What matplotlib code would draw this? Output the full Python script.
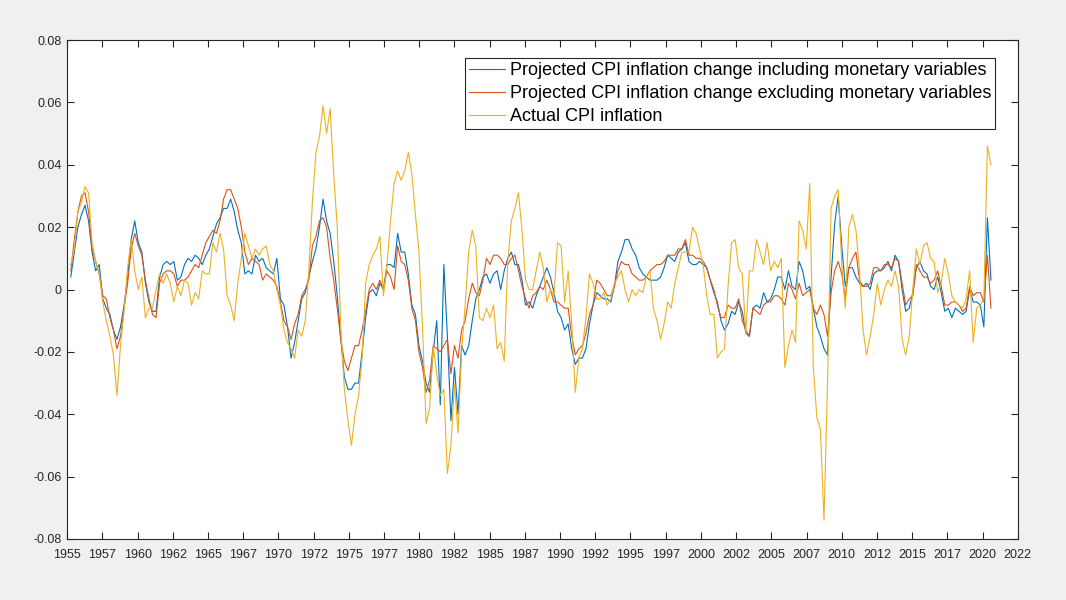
import numpy as np
import matplotlib
matplotlib.use("Agg")
import matplotlib.pyplot as plt

plt.rcParams["font.family"] = ["Liberation Sans", "DejaVu Sans"]
plt.rcParams["axes.unicode_minus"] = False

# evenly spaced observations (roughly quarterly), values in percentage points
first_obs = 1955.25
last_obs = 2020.6

incl_monetary_pct = [
    0.4, 1.2, 2.0,                # 1955
    2.4, 2.7, 2.2, 1.2,           # 1956
    0.6, 0.8, -0.3, -0.6,         # 1957
    -0.8, -1.3, -1.6, -1.2,       # 1958
    -0.5, 0.4, 1.6, 2.2,          # 1959
    1.5, 1.2, 0.2, -0.4,          # 1960
    -0.7, -0.7, 0.4, 0.8,         # 1961
    0.9, 0.8, 0.9, 0.3,           # 1962
    0.4, 0.8, 1.0, 0.9,           # 1963
    1.1, 1.0, 0.8, 1.1,           # 1964
    1.3, 1.7, 2.1, 2.3,           # 1965
    2.6, 2.6, 2.9, 2.5,           # 1966
    1.9, 1.5, 0.5, 0.6,           # 1967
    0.5, 1.1, 0.9, 1.0,           # 1968
    0.7, 0.6, 0.5, 1.0,           # 1969
    -0.3, -0.5, -1.2, -2.2,       # 1970
    -1.7, -1.0, -0.3, -0.1,       # 1971
    0.4, 0.9, 1.3, 2.0,           # 1972
    2.9, 2.2, 1.8, 0.9,           # 1973
    -0.2, -1.6, -2.8, -3.2,       # 1974
    -3.2, -3.0, -3.0, -2.0,       # 1975
    -0.9, -0.1, 0.0, -0.2,        # 1976
    0.2, 0.0, 0.8, 0.8,           # 1977
    0.7, 1.8, 1.2, 1.2,           # 1978
    0.5, -0.5, -0.8, -1.8,        # 1979
    -2.3, -3.0, -3.3, -2.0,       # 1980
    -1.0, -3.7, 0.8, -1.5,        # 1981
    -4.2, -2.5, -4.0, -1.8,       # 1982
    -2.1, -1.8, -1.0, -0.3,       # 1983
    0.0, 0.4, 0.5, 0.2,           # 1984
    0.5, 0.6, 0.0, 0.6,           # 1985
    1.0, 1.2, 0.8, 0.8,           # 1986
    0.3, -0.5, -0.4, -0.6,        # 1987
    -0.2, 0.1, 0.4, 0.7,          # 1988
    0.4, -0.1, -0.7, -0.9,        # 1989
    -1.3, -1.1, -1.9, -2.4,       # 1990
    -2.2, -2.2, -1.9, -1.1,       # 1991
    -0.5, -0.1, -0.2, -0.3,       # 1992
    -0.3, -0.4, 0.1, 0.9,         # 1993
    1.2, 1.6, 1.6, 1.3,           # 1994
    1.1, 0.7, 0.5, 0.4,           # 1995
    0.3, 0.3, 0.3, 0.4,           # 1996
    0.7, 1.1, 1.0, 0.9,           # 1997
    1.2, 1.3, 1.5, 0.9,           # 1998
    0.8, 0.8, 0.9, 0.8,           # 1999
    0.7, 0.3, -0.1, -0.4,         # 2000
    -1.0, -1.3, -1.1, -0.7,       # 2001
    -0.8, -0.4, -0.7, -1.4,       # 2002
    -1.5, -0.6, -0.5, -0.6,       # 2003
    -0.1, -0.4, -0.3, 0.0,        # 2004
    0.4, 0.4, 0.0, 0.6,           # 2005
    0.1, 0.0, 0.9, 0.6,           # 2006
    0.0, 0.1, -0.6, -1.2,         # 2007
    -1.5, -1.9, -2.1, 0.4,        # 2008
    2.1, 3.0, 1.4, 0.1,           # 2009
    0.7, 0.7, 0.4, 0.2,           # 2010
    0.1, 0.2, 0.0, 0.5,           # 2011
    0.6, 0.6, 0.7, 0.9,           # 2012
    0.6, 1.1, 0.9, 0.0,           # 2013
    -0.7, -0.6, -0.1, 0.7,        # 2014
    0.9, 0.6, 0.5, 0.1,           # 2015
    0.0, 0.4, -0.1, -0.7,         # 2016
    -0.6, -0.9, -0.6, -0.7,       # 2017
    -0.8, -0.7, 0.0, -0.4,        # 2018
    -0.4, -0.5, -1.2, 2.3,        # 2019
    0.3,                          # 2020
]

excl_monetary_pct = [
    0.6, 1.6, 2.5,                # 1955
    3.0, 3.1, 2.5, 1.3,           # 1956
    0.9, 0.5, -0.2, -0.3,         # 1957
    -0.9, -1.3, -1.9, -1.5,       # 1958
    -0.6, 0.2, 1.3, 1.8,          # 1959
    1.4, 1.1, 0.3, -0.3,          # 1960
    -0.8, -0.9, 0.2, 0.5,         # 1961
    0.6, 0.6, 0.5, 0.1,           # 1962
    0.3, 0.3, 0.4, 0.6,           # 1963
    0.8, 0.7, 1.1, 1.5,           # 1964
    1.7, 1.9, 1.8, 2.2,           # 1965
    2.9, 3.2, 3.2, 2.9,           # 1966
    2.6, 2.0, 1.2, 0.8,           # 1967
    1.0, 0.9, 0.8, 0.3,           # 1968
    0.5, 0.4, 0.3, 0.1,           # 1969
    -0.4, -1.0, -1.2, -1.6,       # 1970
    -1.1, -0.8, -0.2, 0.0,        # 1971
    0.3, 1.4, 1.7, 2.2,           # 1972
    2.3, 2.0, 1.0, 0.3,           # 1973
    -0.6, -1.6, -2.3, -2.6,       # 1974
    -2.2, -1.8, -1.8, -1.3,       # 1975
    -0.7, 0.0, 0.2, 0.0,          # 1976
    0.3, 0.0, 0.6, 0.4,           # 1977
    0.0, 1.4, 0.9, 0.8,           # 1978
    0.3, -0.6, -1.0, -2.0,        # 1979
    -2.5, -3.3, -2.9, -1.8,       # 1980
    -1.9, -2.0, -1.8, -1.6,       # 1981
    -2.7, -1.8, -2.2, -1.3,       # 1982
    -1.0, -0.3, 0.2, -0.1,        # 1983
    -0.2, 0.3, 1.0, 0.8,          # 1984
    1.1, 1.1, 1.0, 0.8,           # 1985
    0.8, 1.0, 1.1, 0.6,           # 1986
    0.1, -0.3, -0.6, -0.2,        # 1987
    -0.1, 0.1, 0.0, 0.3,          # 1988
    0.0, -0.4, -0.4, -0.5,        # 1989
    -0.6, -0.6, -1.5, -2.1,       # 1990
    -1.9, -1.8, -1.4, -0.8,       # 1991
    -0.5, 0.3, 0.2, 0.0,          # 1992
    -0.2, -0.2, 0.1, 0.6,         # 1993
    0.9, 0.8, 0.8, 0.5,           # 1994
    0.4, 0.3, 0.3, 0.4,           # 1995
    0.6, 0.7, 0.8, 0.8,           # 1996
    0.9, 1.1, 1.1, 1.1,           # 1997
    1.3, 1.3, 1.6, 1.1,           # 1998
    1.1, 1.0, 1.0, 0.9,           # 1999
    0.7, 0.3, 0.0, -0.5,          # 2000
    -0.9, -0.9, -0.5, -0.6,       # 2001
    -0.6, -0.3, -1.0, -1.3,       # 2002
    -1.5, -0.6, -0.7, -0.8,       # 2003
    -0.5, -0.4, -0.4, -0.2,       # 2004
    -0.2, -0.3, -0.5, 0.2,        # 2005
    0.0, -0.3, 0.2, -0.2,         # 2006
    -0.1, 0.0, -0.6, -0.8,        # 2007
    -0.5, -0.8, -1.5, -0.1,       # 2008
    0.6, 0.9, 0.5, -0.3,          # 2009
    0.7, 1.0, 1.2, 0.3,           # 2010
    0.1, 0.1, 0.2, 0.7,           # 2011
    0.7, 0.6, 0.8, 0.8,           # 2012
    0.7, 1.0, 0.9, 0.2,           # 2013
    -0.5, -0.3, -0.2, 0.8,        # 2014
    0.6, 0.4, 0.4, 0.2,           # 2015
    0.3, 0.6, 0.1, -0.5,          # 2016
    -0.5, -0.4, -0.4, -0.5,       # 2017
    -0.7, -0.6, 0.1, -0.2,        # 2018
    -0.1, -0.1, -0.4, 1.1,        # 2019
    -0.6,                         # 2020
]

actual_cpi_pct = [
    0.8, 1.3, 2.5,                # 1955
    2.8, 3.3, 3.1, 1.5,           # 1956
    0.9, 0.5, -0.4, -1.0,         # 1957
    -1.5, -2.1, -3.4, -1.8,       # 1958
    -0.7, 0.7, 1.6, 0.6,          # 1959
    0.0, 0.4, -0.9, -0.6,         # 1960
    -0.6, 0.0, 0.5, 0.2,          # 1961
    0.5, 0.2, -0.4, 0.1,          # 1962
    -0.2, 0.3, 0.2, -0.5,         # 1963
    -0.1, -0.3, 0.6, 0.5,         # 1964
    0.5, 1.5, 1.2, 1.8,           # 1965
    1.3, -0.2, -0.5, -1.0,        # 1966
    0.2, 1.0, 1.8, 1.4,           # 1967
    1.0, 1.3, 1.1, 1.3,           # 1968
    1.4, 0.8, 0.6, 0.0,           # 1969
    -0.5, -1.3, -1.7, -1.9,       # 1970
    -2.2, -1.3, -1.5, -1.0,       # 1971
    0.6, 2.8, 4.4, 4.9,           # 1972
    5.9, 5.0, 5.8, 3.7,           # 1973
    2.0, -1.2, -3.2, -4.2,        # 1974
    -5.0, -4.0, -3.4, -2.2,       # 1975
    0.2, 0.8, 1.1, 1.3,           # 1976
    1.7, -0.2, 0.8, 2.2,          # 1977
    3.4, 3.8, 3.5, 3.8,           # 1978
    4.4, 3.7, 2.4, 1.2,           # 1979
    -1.2, -4.3, -3.8, -1.8,       # 1980
    -2.7, -3.4, -3.2, -5.9,       # 1981
    -5.0, -3.0, -4.6, -2.0,       # 1982
    -0.5, 1.2, 1.9, 1.4,          # 1983
    -0.9, -1.0, -0.6, -0.9,       # 1984
    -0.5, -1.9, -1.7, -2.3,       # 1985
    0.9, 2.2, 2.6, 3.1,           # 1986
    1.9, 0.3, 0.0, 0.0,           # 1987
    0.6, 1.2, 0.7, -0.4,          # 1988
    0.0, -0.2, 1.5, 1.4,          # 1989
    -0.4, 0.6, -1.1, -3.3,        # 1990
    -2.2, -1.9, -0.9, 0.5,        # 1991
    0.2, -0.3, -0.3, -0.1,        # 1992
    -0.5, -0.3, 0.2, 0.4,         # 1993
    0.6, 0.0, -0.4, 0.0,          # 1994
    -0.2, 0.0, -0.1, 0.4,         # 1995
    0.6, -0.6, -1.0, -1.6,        # 1996
    -1.1, -0.4, -0.6, 0.2,        # 1997
    0.7, 1.2, 1.2, 1.2,           # 1998
    2.0, 1.8, 1.3, 0.8,           # 1999
    -0.2, -0.8, -0.8, -2.2,       # 2000
    -2.0, -1.9, 0.1, 1.5,         # 2001
    1.6, 0.7, 0.5, -1.4,          # 2002
    0.6, 0.6, 1.6, 1.2,           # 2003
    0.8, 1.5, 0.6, 0.9,           # 2004
    0.7, 1.0, -2.5, -1.8,         # 2005
    -1.3, -1.7, 2.2, 1.9,         # 2006
    1.3, 3.4, -2.5, -4.1,         # 2007
    -4.5, -7.4, -3.0, 2.6,        # 2008
    3.0, 3.2, 0.8, -0.6,          # 2009
    2.0, 2.4, 1.9, 0.6,           # 2010
    -1.3, -2.1, -1.5, -0.8,       # 2011
    0.2, -0.5, 0.0, 0.3,          # 2012
    0.1, 0.6, 0.1, -1.6,          # 2013
    -2.1, -1.5, 0.0, 1.3,         # 2014
    0.8, 1.4, 1.5, 1.0,           # 2015
    0.9, -0.1, 0.2, 1.0,          # 2016
    0.5, -0.2, -0.4, -0.5,        # 2017
    -0.6, -0.3, 0.6, -1.7,        # 2018
    -0.6, -0.5, -0.3, 4.6,        # 2019
    4.0,                          # 2020
]

labels = [
    "Projected CPI inflation change including monetary variables",
    "Projected CPI inflation change excluding monetary variables",
    "Actual CPI inflation",
]
colors = ["#0072BD", "#D95319", "#EDB120"]

y_ticks = [-0.08, -0.06, -0.04, -0.02, 0, 0.02, 0.04, 0.06, 0.08]
y_tick_labels = ["-0.08", "-0.06", "-0.04", "-0.02", "0", "0.02", "0.04", "0.06", "0.08"]
x_ticks = np.arange(1955, 2022.6, 2.5)
x_tick_labels = [str(int(np.floor(v))) for v in x_ticks]

series = [np.array(s) / 100 for s in (incl_monetary_pct, excl_monetary_pct, actual_cpi_pct)]
t = np.linspace(first_obs, last_obs, len(series[0]))

fig = plt.figure(figsize=(10.66, 6.0), dpi=100, facecolor="#F0F0F0")
ax = fig.add_axes([0.0631, 0.1017, 0.8916, 0.8316])
ax.set_facecolor("white")

for y, c, lab in zip(series, colors, labels):
    ax.plot(t, y, color=c, linewidth=0.8, label=lab)

ax.set_xlim(1955, 2022.5)
ax.set_ylim(-0.08, 0.08)
ax.set_xticks(x_ticks)
ax.set_xticklabels(x_tick_labels)
ax.set_yticks(y_ticks)
ax.set_yticklabels(y_tick_labels)

for sp in ax.spines.values():
    sp.set_color("#262626")
    sp.set_linewidth(0.8)
ax.tick_params(axis="both", direction="in", length=5, width=0.8, color="#262626",
               labelcolor="#262626", labelsize=9, top=True, right=True)
ax.tick_params(axis="x", pad=7)
ax.tick_params(axis="y", pad=4)

leg = ax.legend(loc="upper right", bbox_to_anchor=(0.976, 0.963), borderaxespad=0,
                fontsize=13, frameon=True, fancybox=False, framealpha=1,
                edgecolor="#262626", handlelength=2.0, handletextpad=0.28,
                borderpad=0.2, labelspacing=0.33)
leg.get_frame().set_linewidth(0.8)

fig.savefig("out.png", dpi=100, facecolor=fig.get_facecolor())
